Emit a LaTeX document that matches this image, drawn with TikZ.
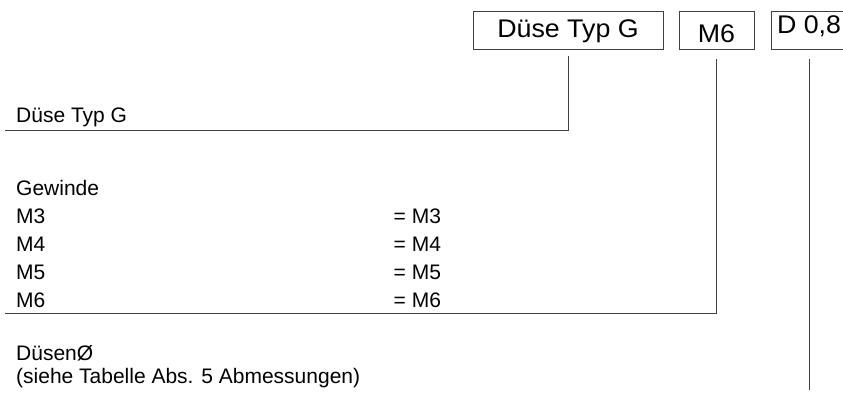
\documentclass[tikz,border=0pt]{standalone}
\usepackage{fontspec}
\setmainfont{Liberation Sans}
\newfontfamily\tagfont{Liberation Sans}[FakeStretch=1.05]
\usepackage{tikz}
\usetikzlibrary{positioning,calc}
\tikzset{
  tagbox/.style={
    draw=black!75,
    line width=0.9pt,
    anchor=base,
    inner sep=0pt,
    font=\tagfont\fontsize{25.5pt}{28pt}\selectfont
  },
  entry/.style={
    anchor=base west,
    inner sep=0pt,
    font=\fontsize{21pt}{28pt}\selectfont
  },
  leader/.style={
    draw=black!75,
    line width=0.9pt
  },
  elbow/.style={
    to path={|- (\tikztotarget)}
  }
}

\begin{document}
\begin{tikzpicture}[x=1pt,y=-1pt]
    \useasboundingbox (0,0) rectangle (843,392);

    \path{
      node[tagbox,minimum width=190pt,text height=26pt,text depth=12pt] (typbox) at (568,37) {Düse Typ G}
      node[tagbox,minimum width=75pt,text height=31pt,text depth=7pt] (gewbox) at (716.5,42) {M6}
      node[tagbox,minimum width=76pt,text height=22.5pt,text depth=15.5pt] (durchbox) at (809,33.5) {D 0,8}
      node[entry] (typtext) at (16,122) {Düse Typ G}
      node[entry] (gewtext) at (16,195) {Gewinde}
      node[entry] (durchtext) at (16,360) {DüsenØ}
      node[entry] (durchnote) at (16,383) {(siehe Tabelle Abs. 5 Abmessungen)}
    };

    % thread sizes
    \foreach \m [count=\i] in {3,4,5,6}{
      \node[entry] (gew\m) at (16,195+28*\i) {M\m};
      \node[entry] (gewval\m) at (393.5,195+28*\i) {= M\m};
    }

    \coordinate (typend) at (5,130);
    \coordinate (gewend) at (5,313);
    \coordinate (durchend) at (809,390);

    \path[leader]{
      ([yshift=-7pt]typbox.south) edge[elbow] (typend)
      ([yshift=-10pt]gewbox.south) edge[elbow] (gewend)
      ([yshift=-10pt]durchbox.south) edge (durchend)
    };
  \end{tikzpicture}
\end{document}
